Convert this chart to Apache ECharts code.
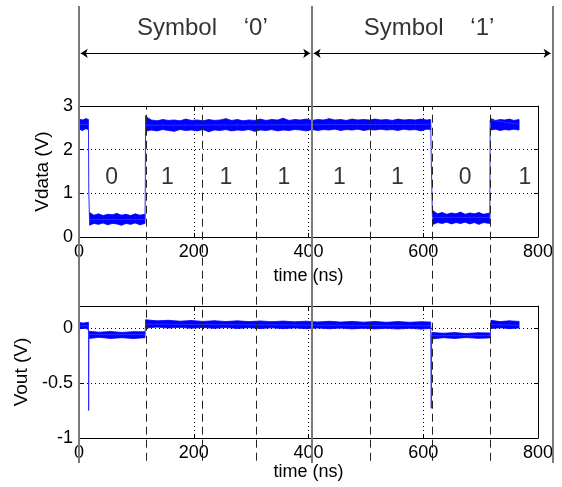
<!DOCTYPE html>
<html><head><meta charset="utf-8">
<script src="https://cdn.jsdelivr.net/npm/echarts@6/dist/echarts.min.js"></script>
<style>html,body{margin:0;padding:0;background:#fff}#c{width:562px;height:487px}</style>
</head><body><div id="c"></div>
<script>
const FONT = '"Liberation Sans", Arial, sans-serif';

// ---- data ----
const xTickStep = 200;
const bitLabels = ['0','1','1','1','1','1','0','1'];
const bitCenters = [57,154,256,357,454,555,673,777];
const bitLevel = 1.35;
const symbolNames = ['Symbol    \u20180\u2019', 'Symbol    \u20181\u2019'];
const symbolTextX = [215, 610];
const symbolEdges = [0, 406, 825];
const boundaryDashed = [117, 214, 309, 507, 615, 717];

// Vdata thin trace (transitions)
const vdataTrace = [[0,2.58],[16.5,2.58],[17,1.07],[17.8,1.07],[18.3,0.4],[115,0.4],[115.5,1.0],[116,2.78],[116.6,2.56],[613,2.58],[614,1.75],[615.5,1.75],[616,0.45],[716,0.45],[716.6,2.68],[767,2.58]];
// Vdata noise envelopes [t, low, high]
const vdBand1 = [[0,2.47,2.70],[6,2.44,2.68],[12,2.48,2.71],[16.5,2.46,2.69]];
const vdBand2 = [[18.5,0.27,0.56],[26,0.31,0.50],[34,0.29,0.53],[42,0.32,0.49],[50,0.28,0.52],[58,0.31,0.51],[66,0.30,0.54],[74,0.27,0.50],[82,0.31,0.52],[90,0.29,0.49],[98,0.32,0.53],[106,0.28,0.50],[115,0.31,0.52]];
const vdBand3 = [[116,2.42,2.76],[126,2.45,2.68],[136,2.43,2.66],[146,2.46,2.69],[156,2.44,2.67],[166,2.42,2.68],[176,2.46,2.66],[186,2.44,2.70],[196,2.45,2.67],[206,2.43,2.68],[216,2.46,2.66],[226,2.41,2.69],[236,2.45,2.67],[246,2.44,2.68],[256,2.46,2.71],[266,2.43,2.67],[276,2.45,2.69],[286,2.44,2.66],[296,2.46,2.68],[306,2.42,2.67],[316,2.45,2.70],[326,2.44,2.67],[336,2.46,2.69],[346,2.43,2.68],[356,2.45,2.72],[366,2.44,2.67],[376,2.46,2.69],[386,2.45,2.68],[396,2.43,2.70],[406,2.46,2.67],[416,2.44,2.69],[426,2.46,2.68],[436,2.45,2.71],[446,2.47,2.68],[456,2.44,2.69],[466,2.46,2.67],[476,2.45,2.70],[486,2.47,2.68],[496,2.44,2.69],[506,2.46,2.68],[516,2.45,2.70],[526,2.47,2.68],[536,2.45,2.69],[546,2.46,2.67],[556,2.44,2.70],[566,2.47,2.68],[576,2.45,2.69],[586,2.46,2.68],[596,2.43,2.70],[606,2.47,2.68],[613,2.46,2.69]];
const vdBand4 = [[617,0.29,0.60],[625,0.33,0.53],[633,0.31,0.56],[641,0.34,0.52],[649,0.30,0.55],[657,0.33,0.53],[665,0.31,0.57],[673,0.34,0.52],[681,0.30,0.55],[689,0.33,0.53],[697,0.29,0.56],[705,0.33,0.52],[716,0.31,0.55]];
const vdBand5 = [[718,2.45,2.71],[726,2.47,2.67],[734,2.44,2.69],[742,2.46,2.68],[750,2.45,2.70],[758,2.47,2.67],[767,2.45,2.69]];

// Vout thin trace
const voutTrace = [[0,0.02],[16.5,0.02],[16.8,-0.75],[17.3,-0.06],[115,-0.06],[116,0.035],[613,0.02],[614,-0.73],[614.6,-0.07],[717,-0.07],[717.5,0.03],[767,0.025]];
const voBand1 = [[0,-0.01,0.05],[8,0.0,0.045],[16.5,-0.012,0.052]];
const voBand2 = [[17.5,-0.095,-0.030],[35,-0.085,-0.038],[55,-0.095,-0.032],[75,-0.088,-0.040],[95,-0.096,-0.033],[115,-0.088,-0.035]];
const voBand3 = [[116,0.000,0.075],[136,0.008,0.065],[156,0.000,0.070],[176,0.006,0.062],[196,-0.002,0.068],[216,0.005,0.060],[236,-0.003,0.066],[256,0.004,0.059],[276,-0.004,0.065],[296,0.003,0.058],[316,-0.005,0.064],[336,0.002,0.057],[356,-0.006,0.063],[376,0.001,0.056],[396,-0.006,0.062],[416,0.000,0.055],[436,-0.007,0.061],[456,-0.001,0.054],[476,-0.008,0.060],[496,-0.002,0.053],[516,-0.008,0.059],[536,-0.003,0.052],[556,-0.009,0.058],[576,-0.003,0.052],[596,-0.010,0.057],[613,-0.004,0.054]];
const voBand4 = [[615,-0.10,-0.04],[635,-0.088,-0.048],[655,-0.095,-0.042],[675,-0.087,-0.050],[695,-0.094,-0.043],[716,-0.090,-0.045]];
const voBand5 = [[718,-0.005,0.070],[734,0.002,0.058],[750,-0.006,0.065],[767,0.000,0.060]];

// ---- build ----
const chart = echarts.init(document.getElementById('c'), null, {renderer:'canvas'});
function segPairs(band){ const out=[]; for(let i=0;i<band.length-1;i++){ const a=band[i], b=band[i+1]; out.push([a[0],a[1],a[2],b[0],b[1],b[2]]);} return out; }
function bandSeries(bands, gi){
  return { type:'custom', xAxisIndex:gi, yAxisIndex:gi, data: bands.flatMap(segPairs),
    encode:{x:[0,3], y:[1,2,4,5]}, clip:true, silent:true,
    renderItem:(params, api)=>{
      const a=api.coord([api.value(0),api.value(2)]), b=api.coord([api.value(3),api.value(5)]);
      const c=api.coord([api.value(3),api.value(4)]), d=api.coord([api.value(0),api.value(1)]);
      return {type:'polygon', shape:{points:[a,b,c,d]}, style:{fill:'#0000ff', stroke:'#0000ff', lineWidth:0.8}};
    }};
}
const txt = {color:'#000', fontFamily:FONT};
const dotted = {show:true, lineStyle:{color:'#000', width:1, type:[1,3]}};
function xAx(gi, gap){
  return {gridIndex:gi, type:'value', min:0, max:800, interval:xTickStep,
    axisLine:{onZero:false, lineStyle:{color:'#000', width:1}}, axisTick:{inside:true, length:4, lineStyle:{color:'#000'}},
    axisLabel:Object.assign({fontSize:18, margin:6}, txt),
    splitLine:dotted,
    name:'time (ns)', nameLocation:'middle', nameGap:gap, nameTextStyle:Object.assign({fontSize:18}, txt)};
}
function xAxTop(gi){
  return {gridIndex:gi, type:'value', position:'top', min:0, max:800, interval:xTickStep,
    axisLine:{onZero:false, lineStyle:{color:'#000', width:1}}, axisTick:{inside:true, length:4, lineStyle:{color:'#000'}},
    axisLabel:{show:false}, splitLine:{show:false}};
}
function yAx(gi, min, max, interval, name, gap){
  return {gridIndex:gi, type:'value', min, max, interval,
    axisLine:{show:true, onZero:false, lineStyle:{color:'#000', width:1}}, axisTick:{show:true, inside:true, length:4, lineStyle:{color:'#000'}},
    axisLabel:Object.assign({fontSize:18, margin:6, showMaxLabel:max % interval === 0}, txt),
    splitLine:dotted,
    name, nameLocation:'middle', nameGap:gap, nameTextStyle:Object.assign({fontSize:19}, txt)};
}
function yAxRight(gi, min, max, interval){
  return {gridIndex:gi, type:'value', position:'right', min, max, interval,
    axisLine:{show:true, onZero:false, lineStyle:{color:'#000', width:1}}, axisTick:{show:true, inside:true, length:4, lineStyle:{color:'#000'}},
    axisLabel:{show:false}, splitLine:{show:false}};
}
const ovW = 459*850/800;
const option = {
  animation:false,
  backgroundColor:'#fff',
  grid:[
    {left:79, top:106, width:459, height:131, show:false, containLabel:false, outerBoundsMode:'none'},
    {left:79, top:306, width:459, height:132, show:false, containLabel:false, outerBoundsMode:'none'},
    {left:79, top:6, width:ovW, height:457, show:false, containLabel:false, outerBoundsMode:'none'}
  ],
  xAxis:[ xAx(0, 30), xAx(1, 19), {gridIndex:2, type:'value', min:0, max:850, show:false}, xAxTop(0), xAxTop(1) ],
  yAxis:[ yAx(0, 0, 3, 1, 'Vdata (V)', 20), yAx(1, -1, 0.2, 0.5, 'Vout (V)', 39), {gridIndex:2, type:'value', min:0, max:1, show:false}, yAxRight(0, 0, 3, 1), yAxRight(1, -1, 0.2, 0.5) ],
  series:[
    bandSeries([vdBand1,vdBand2,vdBand3,vdBand4,vdBand5], 0),
    {type:'line', xAxisIndex:0, yAxisIndex:0, data:vdataTrace, showSymbol:false, symbol:'none', lineStyle:{color:'#2a2aff', width:1}, silent:true},
    bandSeries([voBand1,voBand2,voBand3,voBand4,voBand5], 1),
    {type:'line', xAxisIndex:1, yAxisIndex:1, data:voutTrace, showSymbol:false, symbol:'none', lineStyle:{color:'#2a2aff', width:1}, silent:true},
    {type:'scatter', xAxisIndex:0, yAxisIndex:0, data:bitCenters.map((x,i)=>[x,bitLevel]), symbolSize:1, itemStyle:{color:'rgba(0,0,0,0)'},
      label:{show:true, position:'inside', formatter:p=>bitLabels[p.dataIndex], fontSize:23, color:'#000', fontFamily:FONT}, silent:true},
    {type:'lines', coordinateSystem:'cartesian2d', xAxisIndex:2, yAxisIndex:2, z:5, silent:true,
      data:symbolEdges.map(x=>({coords:[[x,0],[x,1]]})), lineStyle:{color:'#7a7a7a', width:2, opacity:1}},
    {type:'lines', coordinateSystem:'cartesian2d', xAxisIndex:2, yAxisIndex:2, z:4, silent:true,
      data:boundaryDashed.map(x=>({coords:[[x,0.005],[x,0.781]]})), lineStyle:{color:'#222', width:1, type:[8,5], opacity:1}},
    {type:'lines', coordinateSystem:'cartesian2d', xAxisIndex:2, yAxisIndex:2, z:5, silent:true,
      symbol:['arrow','arrow'], symbolSize:7,
      data:[{coords:[[3,0.8965],[403,0.8965]]},{coords:[[409,0.8965],[822,0.8965]]}], lineStyle:{color:'#000', width:1, opacity:1}},
    {type:'scatter', xAxisIndex:2, yAxisIndex:2, data:symbolTextX.map(x=>[x,0.95]), symbolSize:1, itemStyle:{color:'rgba(0,0,0,0)'},
      label:{show:true, position:'inside', formatter:p=>symbolNames[p.dataIndex], fontSize:24, color:'#000', fontFamily:FONT}, silent:true}
  ]
};
chart.setOption(option);
</script></body></html>
